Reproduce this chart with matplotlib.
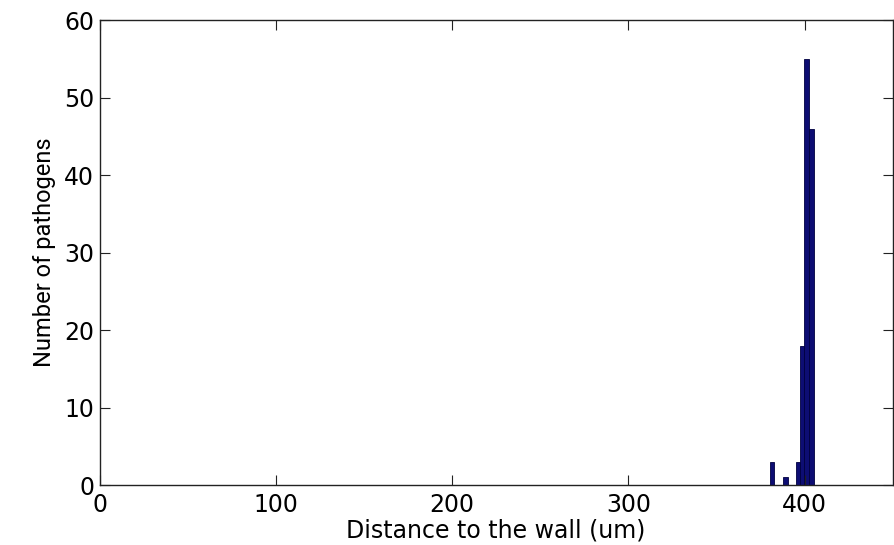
import matplotlib
matplotlib.use("Agg")
import matplotlib.pyplot as plt
from matplotlib import font_manager

# Data
bin_centers = [381.5, 389.0, 396.3, 398.6, 401.3, 404.0]
counts = [3, 1, 3, 18, 55, 46]
bin_width = 2.7
x_ticks = [0, 100, 200, 300, 400]
y_ticks = [0, 10, 20, 30, 40, 50, 60]

names = {f.name for f in font_manager.fontManager.ttflist}
label_font = 'Roboto' if 'Roboto' in names else 'DejaVu Sans'

fig = plt.figure(figsize=(8.94, 5.45), dpi=100)
ax = fig.add_axes([0.1115, 0.11, 0.887, 0.853])

ax.bar(bin_centers, counts, width=bin_width, color='#0d0d73',
       edgecolor='#000040', linewidth=0.6, align='center')

ax.set_xlim(0, 450)
ax.set_ylim(0, 60)
ax.set_xticks(x_ticks)
ax.set_yticks(y_ticks)
ax.tick_params(direction='in', length=7, width=0.8, top=True, right=True,
               labelsize=17, colors='#222222', labelcolor='black')
for lab in ax.get_xticklabels() + ax.get_yticklabels():
    lab.set_family('DejaVu Sans')
ax.tick_params(axis='x', pad=6)
ax.tick_params(axis='y', pad=4)
for s in ax.spines.values():
    s.set_linewidth(1.0)
    s.set_color('#222222')

ax.set_xlabel('Distance to the wall (um)', fontsize=17, family='DejaVu Sans', labelpad=1)
ax.set_ylabel('Number of pathogens', fontsize=17, family=label_font, labelpad=6)

fig.savefig('out.png', dpi=100)
